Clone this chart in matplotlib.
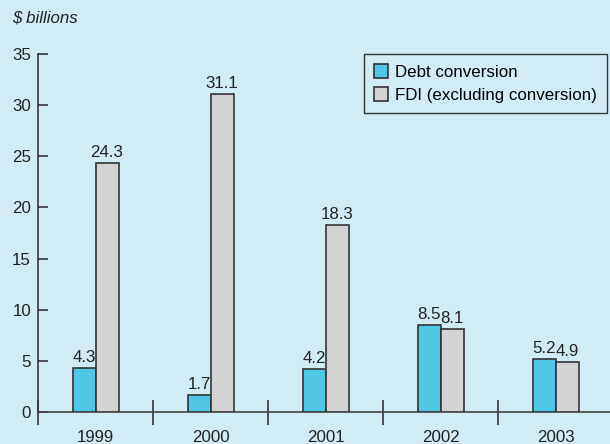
import matplotlib.pyplot as plt
import numpy as np

years = ['1999', '2000', '2001', '2002', '2003']
debt_conversion = [4.3, 1.7, 4.2, 8.5, 5.2]
fdi_excl_conversion = [24.3, 31.1, 18.3, 8.1, 4.9]
y_ticks = [0, 5, 10, 15, 20, 25, 30, 35]

bg = '#d2ecf5'
blue = '#4ec8e5'
gray = '#d3d3d3'
ink = '#333333'
fs = 12.2

plt.rcParams['font.family'] = ['Liberation Sans', 'DejaVu Sans']

fig = plt.figure(figsize=(6.1, 4.44), dpi=100, facecolor=bg)
ax = fig.add_axes([38 / 610, 1 - 412 / 444, 1 - 38 / 610, (412 - 54) / 444])
ax.set_facecolor(bg)

x = np.arange(len(years))
w = 0.2
b1 = ax.bar(x - w / 2, debt_conversion, w, color=blue, edgecolor=ink, linewidth=1.2,
            label='Debt conversion', zorder=3)
b2 = ax.bar(x + w / 2, fdi_excl_conversion, w, color=gray, edgecolor=ink, linewidth=1.2,
            label='FDI (excluding conversion)', zorder=3)

for bars, vals in ((b1, debt_conversion), (b2, fdi_excl_conversion)):
    for r, v in zip(bars, vals):
        ax.text(r.get_x() + r.get_width() / 2, v + 0.3, f'{v:.1f}', ha='center',
                va='bottom', fontsize=fs, color='#222222')

ax.set_xlim(-0.5, 4.47)
ax.set_ylim(0, 35)

for s in ('top', 'right'):
    ax.spines[s].set_visible(False)
ax.spines['left'].set_color(ink)
ax.spines['left'].set_linewidth(1.2)
ax.spines['bottom'].set_color('#444444')
ax.spines['bottom'].set_linewidth(1.2)
ax.spines['left'].set_bounds(0, 35)

ax.set_yticks(y_ticks)
ax.tick_params(axis='y', direction='in', length=7, width=1.2, color=ink,
               labelsize=fs, labelcolor='#222222', pad=5)

# category boundaries get ticks, labels sit at the centres
ax.set_xticks(np.arange(-0.5, 4.5, 1.0))
ax.set_xticklabels([])
ax.tick_params(axis='x', which='major', direction='inout', length=18, width=1.2, color=ink)
ax.set_xticks(x, minor=True)
ax.set_xticklabels(years, minor=True)
ax.tick_params(axis='x', which='minor', length=0, labelsize=fs, labelcolor='#222222', pad=13)

fig.text(12 / 610, 1 - 18 / 444, '$ billions', fontsize=fs, style='italic',
         color='#222222', va='center', ha='left')

leg = ax.legend(loc='upper right', bbox_to_anchor=(607 / 610, 1 - 54 / 444),
                bbox_transform=fig.transFigure, fontsize=fs, frameon=True,
                fancybox=False, handlelength=0.85, handleheight=0.85,
                handletextpad=0.4, borderpad=0.6, labelspacing=0.45, borderaxespad=0)
leg.get_frame().set_facecolor(bg)
leg.get_frame().set_edgecolor(ink)
leg.get_frame().set_linewidth(1.0)
leg.get_frame().set_alpha(1)

fig.savefig('out.png', dpi=100, facecolor=bg)
